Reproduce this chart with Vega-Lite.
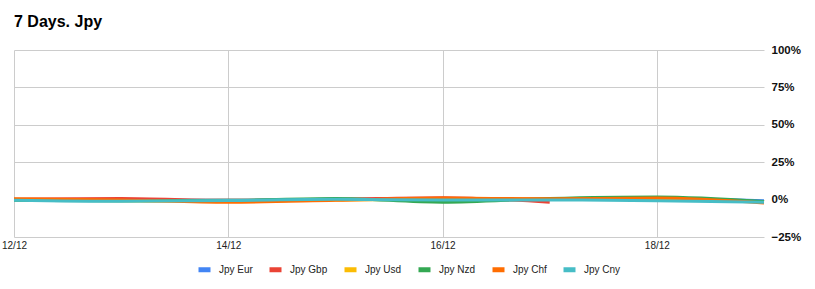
{
  "$schema": "https://vega.github.io/schema/vega-lite/v6.json",
  "width": 750,
  "height": 187,
  "autosize": "none",
  "padding": {"left": 14, "top": 50, "right": 51, "bottom": 52},
  "background": "white",
  "title": {
    "text": "7 Days. Jpy",
    "anchor": "start",
    "frame": "group",
    "font": "Liberation Sans",
    "fontSize": 16,
    "fontWeight": "bold",
    "color": "#000000",
    "offset": 14
  },
  "data": {
    "values": [
      {"date": "2023-12-12", "series": "Jpy Eur", "value": 0.0},
      {"date": "2023-12-13", "series": "Jpy Eur", "value": -0.005},
      {"date": "2023-12-14", "series": "Jpy Eur", "value": -0.005},
      {"date": "2023-12-15", "series": "Jpy Eur", "value": 0.003},
      {"date": "2023-12-16", "series": "Jpy Eur", "value": -0.003},
      {"date": "2023-12-17", "series": "Jpy Eur", "value": 0.002},
      {"date": "2023-12-18", "series": "Jpy Eur", "value": 0.005},
      {"date": "2023-12-19", "series": "Jpy Eur", "value": -0.008},
      {"date": "2023-12-12", "series": "Jpy Gbp", "value": 0.003},
      {"date": "2023-12-13", "series": "Jpy Gbp", "value": 0.008},
      {"date": "2023-12-14", "series": "Jpy Gbp", "value": -0.005},
      {"date": "2023-12-15", "series": "Jpy Gbp", "value": 0.002},
      {"date": "2023-12-16", "series": "Jpy Gbp", "value": 0.013},
      {"date": "2023-12-17", "series": "Jpy Gbp", "value": -0.018},
      {"date": "2023-12-12", "series": "Jpy Usd", "value": -0.003},
      {"date": "2023-12-13", "series": "Jpy Usd", "value": -0.008},
      {"date": "2023-12-14", "series": "Jpy Usd", "value": -0.01},
      {"date": "2023-12-15", "series": "Jpy Usd", "value": -0.002},
      {"date": "2023-12-16", "series": "Jpy Usd", "value": 0.002},
      {"date": "2023-12-17", "series": "Jpy Usd", "value": 0.003},
      {"date": "2023-12-18", "series": "Jpy Usd", "value": 0.008},
      {"date": "2023-12-19", "series": "Jpy Usd", "value": -0.015},
      {"date": "2023-12-12", "series": "Jpy Nzd", "value": -0.005},
      {"date": "2023-12-13", "series": "Jpy Nzd", "value": -0.008},
      {"date": "2023-12-14", "series": "Jpy Nzd", "value": -0.005},
      {"date": "2023-12-15", "series": "Jpy Nzd", "value": 0.008},
      {"date": "2023-12-16", "series": "Jpy Nzd", "value": -0.017},
      {"date": "2023-12-17", "series": "Jpy Nzd", "value": 0.008},
      {"date": "2023-12-18", "series": "Jpy Nzd", "value": 0.018},
      {"date": "2023-12-19", "series": "Jpy Nzd", "value": -0.012},
      {"date": "2023-12-12", "series": "Jpy Chf", "value": 0.005},
      {"date": "2023-12-13", "series": "Jpy Chf", "value": -0.003},
      {"date": "2023-12-14", "series": "Jpy Chf", "value": -0.018},
      {"date": "2023-12-15", "series": "Jpy Chf", "value": -0.005},
      {"date": "2023-12-16", "series": "Jpy Chf", "value": 0.01},
      {"date": "2023-12-17", "series": "Jpy Chf", "value": 0.005},
      {"date": "2023-12-18", "series": "Jpy Chf", "value": 0.01},
      {"date": "2023-12-19", "series": "Jpy Chf", "value": -0.023},
      {"date": "2023-12-12", "series": "Jpy Cny", "value": -0.004},
      {"date": "2023-12-13", "series": "Jpy Cny", "value": -0.011},
      {"date": "2023-12-14", "series": "Jpy Cny", "value": -0.006},
      {"date": "2023-12-15", "series": "Jpy Cny", "value": 0.002},
      {"date": "2023-12-16", "series": "Jpy Cny", "value": -0.003},
      {"date": "2023-12-17", "series": "Jpy Cny", "value": -0.003},
      {"date": "2023-12-18", "series": "Jpy Cny", "value": -0.007},
      {"date": "2023-12-19", "series": "Jpy Cny", "value": -0.018}
    ]
  },
  "mark": {"type": "line", "strokeWidth": 3, "interpolate": "monotone"},
  "encoding": {
    "x": {
      "field": "date",
      "type": "temporal",
      "scale": {"domain": [{"year": 2023, "month": 12, "date": 12}, {"year": 2023, "month": 12, "date": 19}]},
      "axis": {
        "title": null,
        "format": "%d/%m",
        "values": [
          {"year": 2023, "month": 12, "date": 12},
          {"year": 2023, "month": 12, "date": 14},
          {"year": 2023, "month": 12, "date": 16},
          {"year": 2023, "month": 12, "date": 18}
        ],
        "domain": false,
        "ticks": false,
        "grid": true,
        "gridColor": "#cccccc",
        "gridWidth": 1,
        "labelFont": "Liberation Sans",
        "labelFontSize": 10,
        "labelColor": "#222222",
        "labelPadding": 3,
        "labelFlush": false
      }
    },
    "y": {
      "field": "value",
      "type": "quantitative",
      "scale": {"domain": [-0.25, 1.0], "nice": false, "zero": false},
      "axis": {
        "title": null,
        "orient": "right",
        "format": ".0%",
        "values": [-0.25, 0, 0.25, 0.5, 0.75, 1.0],
        "domain": false,
        "ticks": false,
        "grid": true,
        "gridColor": "#cccccc",
        "gridWidth": 1,
        "labelFont": "Liberation Sans",
        "labelFontSize": 11.5,
        "labelFontWeight": "bold",
        "labelColor": "#111111",
        "labelPadding": 7,
        "labelAlign": "left",
        "labelBaseline": "middle"
      }
    },
    "color": {
      "field": "series",
      "type": "nominal",
      "sort": ["Jpy Eur", "Jpy Gbp", "Jpy Usd", "Jpy Nzd", "Jpy Chf", "Jpy Cny"],
      "scale": {
        "domain": ["Jpy Eur", "Jpy Gbp", "Jpy Usd", "Jpy Nzd", "Jpy Chf", "Jpy Cny"],
        "range": ["#4285F4", "#EA4335", "#FBBC04", "#34A853", "#FF6D01", "#46BDC6"]
      },
      "legend": {
        "title": null,
        "orient": "none",
        "direction": "horizontal",
        "legendX": 182,
        "legendY": 211,
        "padding": 0,
        "symbolType": "stroke",
        "symbolSize": 144,
        "symbolStrokeWidth": 5,
        "labelFont": "Liberation Sans",
        "labelFontSize": 10,
        "labelColor": "#222222",
        "labelOffset": 6,
        "columnPadding": 6
      }
    },
    "order": {"field": "date", "type": "temporal"}
  },
  "config": {
    "view": {"stroke": null}
  }
}
